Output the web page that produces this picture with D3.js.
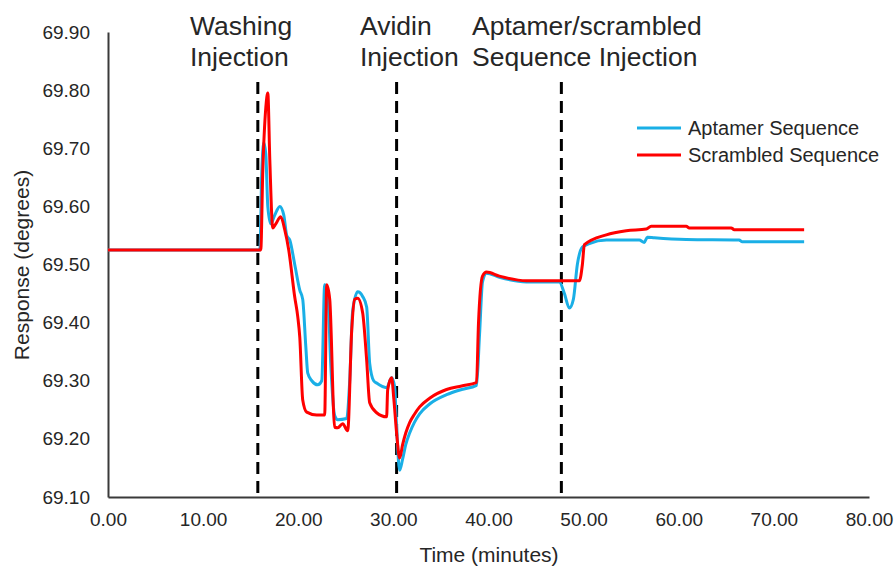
<!DOCTYPE html>
<html>
<head>
<meta charset="utf-8">
<script src="https://cdn.jsdelivr.net/npm/d3@7"></script>
<style>
  html, body { margin: 0; padding: 0; background: #fff; }
  svg { display: block; font-family: "Liberation Sans", Arial, sans-serif; }
</style>
</head>
<body>
<svg id="chart" width="896" height="569"></svg>
<script>
// Aptamer sequence response (degrees) over time (minutes)
const aptamerTime = [0, 15.75, 15.96, 16.17, 16.38, 16.59, 16.80, 17.11, 17.53, 18.06, 18.48, 18.79, 19.11, 19.63, 20.16, 20.47, 20.79, 21.00, 21.42, 22.05, 22.47, 22.78, 23.10, 23.41, 23.83, 24.15, 25.09, 25.41, 25.72, 26.25, 26.77, 27.19, 27.51, 27.93, 28.24, 29.29, 29.82, 30.13, 30.34, 30.66, 30.97, 31.30, 31.71, 32.20, 32.76, 33.81, 35.59, 37.17, 38.74, 39.06, 39.37, 39.79, 41.15, 43.99, 47.45, 47.98, 48.50, 48.92, 49.34, 49.87, 50.60, 52.39, 55.85, 56.38, 56.69, 57.43, 60.79, 66.35, 66.67, 73.18];
const aptamerValue = [69.525, 69.525, 69.525, 69.66, 69.71, 69.69, 69.60, 69.57, 69.585, 69.60, 69.585, 69.55, 69.542, 69.50, 69.456, 69.44, 69.36, 69.313, 69.30, 69.293, 69.30, 69.465, 69.45, 69.33, 69.24, 69.233, 69.235, 69.30, 69.42, 69.453, 69.445, 69.427, 69.33, 69.30, 69.296, 69.288, 69.305, 69.29, 69.22, 69.146, 69.165, 69.19, 69.21, 69.228, 69.243, 69.26, 69.276, 69.285, 69.292, 69.38, 69.47, 69.485, 69.478, 69.47, 69.47, 69.45, 69.425, 69.44, 69.50, 69.53, 69.536, 69.542, 69.542, 69.538, 69.547, 69.546, 69.543, 69.542, 69.539, 69.539];

// Scrambled sequence response (degrees) over time (minutes)
const scrambledTime = [0, 16.06, 16.27, 16.59, 16.80, 17.01, 17.32, 17.64, 18.16, 18.58, 19.00, 19.63, 19.95, 20.16, 20.47, 20.89, 21.94, 22.78, 22.99, 23.31, 23.83, 24.15, 24.67, 25.20, 25.62, 25.93, 26.25, 26.77, 27.19, 27.51, 28.24, 29.29, 29.40, 29.82, 30.03, 30.34, 30.66, 30.97, 31.30, 31.71, 32.20, 32.76, 33.81, 35.59, 37.17, 38.74, 38.95, 39.37, 39.79, 41.15, 43.99, 49.55, 49.87, 50.08, 52.39, 54.49, 56.59, 57.11, 60.79, 61.10, 65.51, 65.83, 73.18];
const scrambledValue = [69.525, 69.525, 69.66, 69.77, 69.795, 69.68, 69.563, 69.57, 69.582, 69.56, 69.525, 69.444, 69.41, 69.375, 69.267, 69.246, 69.241, 69.241, 69.465, 69.44, 69.22, 69.219, 69.226, 69.214, 69.387, 69.44, 69.442, 69.417, 69.336, 69.262, 69.245, 69.238, 69.284, 69.305, 69.272, 69.21, 69.167, 69.19, 69.21, 69.228, 69.242, 69.255, 69.27, 69.285, 69.291, 69.297, 69.40, 69.48, 69.487, 69.48, 69.472, 69.472, 69.50, 69.534, 69.551, 69.558, 69.561, 69.566, 69.566, 69.563, 69.563, 69.560, 69.560];

const seriesNames = ["Aptamer Sequence", "Scrambled Sequence"];
const seriesColors = ["#1AAFE6", "#FF0000"];

// Injection events: time (minutes) and two-line caption
const eventTimes = [15.75, 30.34, 47.66];
const eventLabels = [["Washing", "Injection"], ["Avidin", "Injection"], ["Aptamer/scrambled", "Sequence Injection"]];
const eventLabelX = [190, 360, 472];

const xTicks = [0, 10, 20, 30, 40, 50, 60, 70, 80];
const yTicks = [69.1, 69.2, 69.3, 69.4, 69.5, 69.6, 69.7, 69.8, 69.9];

const svg = d3.select("#chart");
const textColor = "#262626";

const x = d3.scaleLinear().domain([0, 80]).range([108, 869]);
const y = d3.scaleLinear().domain([69.1, 69.9]).range([497, 32]);

// Axes
const xAxis = svg.append("g")
  .attr("transform", `translate(0,${y(69.1)})`)
  .call(d3.axisBottom(x).tickValues(xTicks).tickFormat(d3.format(".2f")).tickSize(0).tickPadding(16));
xAxis.select(".domain").attr("stroke", "#3a3a3a").attr("stroke-width", 2);
xAxis.selectAll("text").attr("font-size", 19).attr("fill", textColor).attr("font-family", "Liberation Sans, Arial, sans-serif");

const yAxis = svg.append("g")
  .attr("transform", `translate(${x(0)},0)`)
  .call(d3.axisLeft(y).tickValues(yTicks).tickFormat(d3.format(".2f")).tickSize(0).tickPadding(18));
yAxis.select(".domain").attr("stroke", "#3a3a3a").attr("stroke-width", 2);
yAxis.selectAll("text").attr("font-size", 19).attr("fill", textColor).attr("font-family", "Liberation Sans, Arial, sans-serif");

// Axis titles
svg.append("text")
  .attr("x", 489).attr("y", 562)
  .attr("text-anchor", "middle")
  .attr("font-size", 21).attr("fill", textColor)
  .text("Time (minutes)");

svg.append("text")
  .attr("transform", "translate(29,265) rotate(-90)")
  .attr("text-anchor", "middle")
  .attr("font-size", 21).attr("fill", textColor)
  .text("Response (degrees)");

// Injection markers
svg.append("g").selectAll("line")
  .data(eventTimes)
  .join("line")
  .attr("x1", d => x(d)).attr("x2", d => x(d))
  .attr("y1", 82).attr("y2", y(69.1))
  .attr("stroke", "#000").attr("stroke-width", 3)
  .attr("stroke-dasharray", "12,7");

const ev = svg.append("g").selectAll("text")
  .data(eventLabels)
  .join("text")
  .attr("x", (d, i) => eventLabelX[i])
  .attr("font-size", 26.5).attr("fill", textColor);
ev.append("tspan").attr("x", (d, i) => eventLabelX[i]).attr("y", 35).text(d => d[0]);
ev.append("tspan").attr("x", (d, i) => eventLabelX[i]).attr("y", 66).text(d => d[1]);

// Series lines
const line = d3.line()
  .x(d => x(d[0]))
  .y(d => y(d[1]))
  .curve(d3.curveMonotoneX);

const series = [
  d3.zip(aptamerTime, aptamerValue),
  d3.zip(scrambledTime, scrambledValue)
];

svg.append("g").selectAll("path")
  .data(series)
  .join("path")
  .attr("d", line)
  .attr("fill", "none")
  .attr("stroke", (d, i) => seriesColors[i])
  .attr("stroke-width", 3)
  .attr("stroke-linejoin", "round");

// Legend
const legend = svg.append("g").selectAll("g")
  .data(seriesNames)
  .join("g")
  .attr("transform", (d, i) => `translate(637,${128 + i * 27})`);
legend.append("line")
  .attr("x1", 0).attr("x2", 44)
  .attr("stroke", (d, i) => seriesColors[i]).attr("stroke-width", 3);
legend.append("text")
  .attr("x", 51).attr("dy", "0.35em")
  .attr("font-size", 20).attr("fill", textColor)
  .text(d => d);
</script>
</body>
</html>
